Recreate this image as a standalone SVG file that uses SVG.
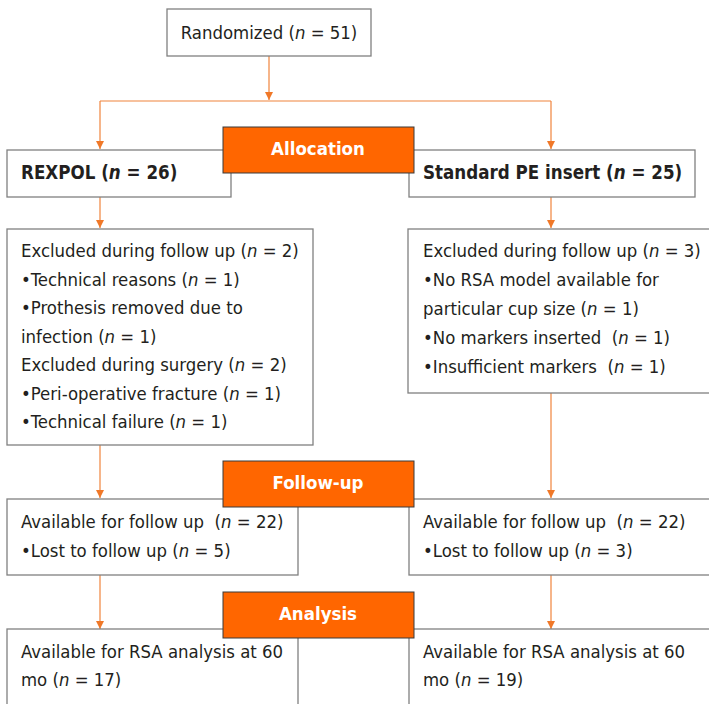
<svg xmlns="http://www.w3.org/2000/svg" width="709" height="704" viewBox="0 0 709 704" xml:space="preserve">
<style>
.box{fill:#fff;stroke:#808080;stroke-width:1.3}
.tag{fill:#ff6600;stroke:#3a3a3a;stroke-width:1}
.t{font-family:"DejaVu Sans Condensed","DejaVu Sans",sans-serif;font-stretch:condensed;font-size:18.4px;fill:#231f20;white-space:pre}
.b{font-weight:bold;font-size:18.6px}
.w{font-family:"DejaVu Sans Condensed","DejaVu Sans",sans-serif;font-stretch:condensed;font-size:18.5px;font-weight:bold;fill:#fff}
.i{font-style:italic}
.ln{fill:none;stroke:#f0843c;stroke-width:1.2}
</style>
<defs>
<marker id="ah" viewBox="0 0 10 10" refX="10" refY="5" markerWidth="8" markerHeight="8" markerUnits="userSpaceOnUse" orient="auto">
<path d="M0,0 L10,5 L0,10 z" fill="#f07828"/>
</marker>
</defs>
<g id="connectors">
<path class="ln" d="M269,56 V100" marker-end="url(#ah)"/>
<path class="ln" d="M100,101 H551"/>
<path class="ln" d="M100,101 V149" marker-end="url(#ah)"/>
<path class="ln" d="M551,101 V149" marker-end="url(#ah)"/>
<path class="ln" d="M100,197 V228" marker-end="url(#ah)"/>
<path class="ln" d="M551,197 V228" marker-end="url(#ah)"/>
<path class="ln" d="M100,445 V498" marker-end="url(#ah)"/>
<path class="ln" d="M551,393 V498" marker-end="url(#ah)"/>
<path class="ln" d="M100,575 V629" marker-end="url(#ah)"/>
<path class="ln" d="M551,575 V629" marker-end="url(#ah)"/>
</g>
<g id="randomized">
<rect class="box" x="167" y="9" width="204" height="47"/>
<text class="t" x="269" y="39" text-anchor="middle">Randomized (<tspan class="i">n</tspan> = 51)</text>
</g>
<g id="rexpol">
<rect class="box" x="7" y="150" width="224" height="47"/>
<text class="t b" x="21" y="179">REXPOL (<tspan class="i">n</tspan> = 26)</text>
</g>
<g id="standard">
<rect class="box" x="409" y="150" width="286" height="47"/>
<text class="t b" x="423" y="179">Standard PE insert (<tspan class="i">n</tspan> = 25)</text>
</g>
<g id="allocation">
<rect class="tag" x="223" y="127" width="191" height="46"/>
<text class="w" x="318" y="155" text-anchor="middle">Allocation</text>
</g>
<g id="excluded-left">
<rect class="box" x="7" y="229" width="306" height="216"/>
<text class="t" x="21" y="257">Excluded during follow up (<tspan class="i">n</tspan> = 2)</text>
<text class="t" x="21" y="285.5">•Technical reasons (<tspan class="i">n</tspan> = 1)</text>
<text class="t" x="21" y="314">•Prothesis removed due to</text>
<text class="t" x="21" y="342.5">infection (<tspan class="i">n</tspan> = 1)</text>
<text class="t" x="21" y="371">Excluded during surgery (<tspan class="i">n</tspan> = 2)</text>
<text class="t" x="21" y="399.5">•Peri-operative fracture (<tspan class="i">n</tspan> = 1)</text>
<text class="t" x="21" y="428">•Technical failure (<tspan class="i">n</tspan> = 1)</text>
</g>
<g id="excluded-right">
<rect class="box" x="408" y="229" width="303" height="164"/>
<text class="t" x="423" y="257">Excluded during follow up (<tspan class="i">n</tspan> = 3)</text>
<text class="t" x="423" y="286">•No RSA model available for</text>
<text class="t" x="423" y="315">particular cup size (<tspan class="i">n</tspan> = 1)</text>
<text class="t" x="423" y="344">•No markers inserted  (<tspan class="i">n</tspan> = 1)</text>
<text class="t" x="423" y="373">•Insufficient markers  (<tspan class="i">n</tspan> = 1)</text>
</g>
<g id="followup-left">
<rect class="box" x="7" y="499" width="291" height="76"/>
<text class="t" x="21" y="528">Available for follow up  (<tspan class="i">n</tspan> = 22)</text>
<text class="t" x="21" y="557">•Lost to follow up (<tspan class="i">n</tspan> = 5)</text>
</g>
<g id="followup-right">
<rect class="box" x="409" y="499" width="302" height="76"/>
<text class="t" x="423" y="528">Available for follow up  (<tspan class="i">n</tspan> = 22)</text>
<text class="t" x="423" y="557">•Lost to follow up (<tspan class="i">n</tspan> = 3)</text>
</g>
<g id="followup">
<rect class="tag" x="223" y="461" width="191" height="46"/>
<text class="w" x="318" y="489" text-anchor="middle">Follow-up</text>
</g>
<g id="analysis-left">
<rect class="box" x="7" y="629" width="291" height="80"/>
<text class="t" x="21" y="658">Available for RSA analysis at 60</text>
<text class="t" x="21" y="686">mo (<tspan class="i">n</tspan> = 17)</text>
</g>
<g id="analysis-right">
<rect class="box" x="409" y="629" width="302" height="80"/>
<text class="t" x="423" y="658">Available for RSA analysis at 60</text>
<text class="t" x="423" y="686">mo (<tspan class="i">n</tspan> = 19)</text>
</g>
<g id="analysis">
<rect class="tag" x="223" y="592" width="191" height="46"/>
<text class="w" x="318" y="620" text-anchor="middle">Analysis</text>
</g>
</svg>
